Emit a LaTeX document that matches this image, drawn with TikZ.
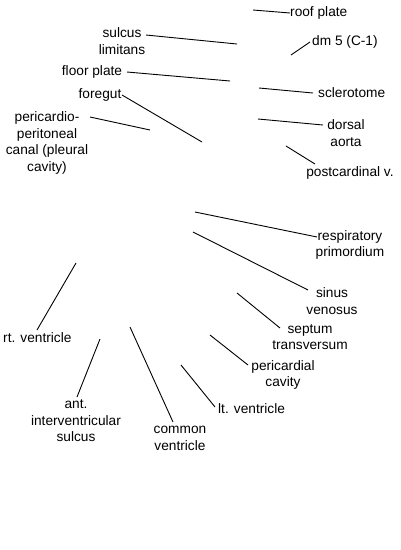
\documentclass[tikz,border=0pt]{standalone}
\usepackage{fontspec}
\setmainfont{Liberation Sans}
\begin{document}
\begin{tikzpicture}[x=1pt,y=-1pt,
  lbl/.style={inner sep=0pt,align=center,font=\fontsize{13.7}{16.4}\selectfont},
  lead/.style={draw=black,line width=0.9pt}]
\useasboundingbox[fill=white] (0,0) rectangle (400,550);
% labels
\node[lbl,anchor=west] (roof) at (290,13) {roof plate};
\node[lbl,anchor=west] (dm) at (312,42) {dm 5 (C-1)};
\node[lbl,anchor=west] (scl) at (318,93) {sclerotome};
\node[lbl] (dors) at (346,133) {dorsal\\aorta};
\node[lbl] (postc) at (350,173) {postcardinal v.};
\node[lbl] (resp) at (350,245) {respiratory\\primordium};
\node[lbl] (sinus) at (332,301) {sinus\\venosus};
\node[lbl] (sept) at (310,337) {septum\\transversum};
\node[lbl] (peric) at (283,375) {pericardial\\cavity};
\node[lbl,anchor=west] (ltv) at (218,409) {lt. ventricle};
\node[lbl] (comm) at (180,438.5) {common\\ventricle};
\node[lbl] (ant) at (76,421) {ant.\\interventricular\\sulcus};
\node[lbl,anchor=west] (rtv) at (3,338) {rt. ventricle};
\node[lbl] (ppc) at (47,143) {pericardio-\\peritoneal\\canal (pleural\\cavity)};
\node[lbl] (fore) at (100,95) {foregut};
\node[lbl] (floor) at (92,72) {floor plate};
\node[lbl] (sulc) at (122,41) {sulcus\\limitans};
% leader end points
\coordinate (roofA) at (290,13);   \coordinate (roofB) at (253,10);
\coordinate (dmA) at (310,42);     \coordinate (dmB) at (291,55);
\coordinate (sclA) at (313,93);    \coordinate (sclB) at (259,88);
\coordinate (dorsA) at (323,125);  \coordinate (dorsB) at (258,119);
\coordinate (postcA) at (315,164); \coordinate (postcB) at (286,146);
\coordinate (respA) at (317,237);  \coordinate (respB) at (195,212);
\coordinate (sinusA) at (308,290); \coordinate (sinusB) at (193,232);
\coordinate (septA) at (280,328);  \coordinate (septB) at (237,293);
\coordinate (pericA) at (248,365); \coordinate (pericB) at (210,335);
\coordinate (ltvA) at (215,407);   \coordinate (ltvB) at (181,365);
\coordinate (commA) at (173,422);  \coordinate (commB) at (130,327);
\coordinate (antA) at (77,397);    \coordinate (antB) at (100,339);
\coordinate (rtvA) at (37,330);    \coordinate (rtvB) at (76,263);
\coordinate (ppcA) at (90,117);    \coordinate (ppcB) at (150,130);
\coordinate (foreA) at (122,95);   \coordinate (foreB) at (202,142);
\coordinate (floorA) at (127,72);  \coordinate (floorB) at (230,81);
\coordinate (sulcA) at (146,35);   \coordinate (sulcB) at (237,44);
% leaders
\foreach \n in {roof,dm,scl,dors,postc,resp,sinus,sept,peric,ltv,comm,ant,rtv,ppc,fore,floor,sulc}
  \draw[lead] (\n A) -- (\n B);
\end{tikzpicture}
\end{document}
